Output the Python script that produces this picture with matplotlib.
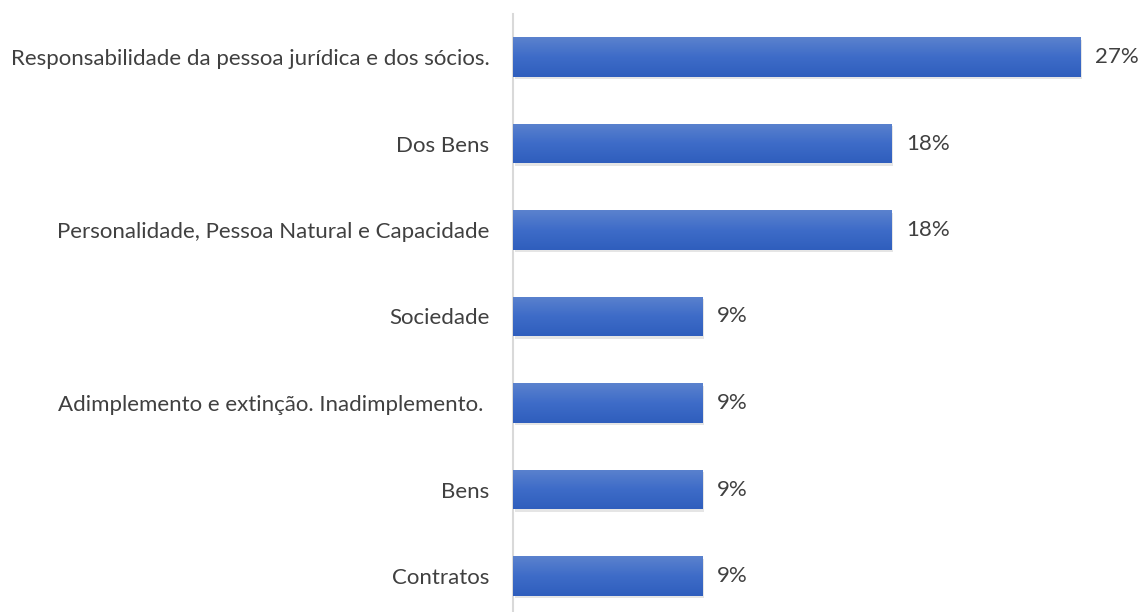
import numpy as np
import matplotlib.pyplot as plt
from matplotlib.colors import LinearSegmentedColormap

categorias = [
    "Responsabilidade da pessoa jurídica e dos sócios.",
    "Dos Bens",
    "Personalidade, Pessoa Natural e Capacidade",
    "Sociedade",
    "Adimplemento e extinção. Inadimplemento. ",
    "Bens",
    "Contratos",
]
valores = [27.27, 18.18, 18.18, 9.09, 9.09, 9.09, 9.09]
rotulos = ["27%", "18%", "18%", "9%", "9%", "9%", "9%"]

plt.rcParams['font.family'] = ['Lato', 'DejaVu Sans']

W, H = 1140, 612
fig = plt.figure(figsize=(W / 100, H / 100), dpi=100)
# eixo: x a partir de 513px, ~20.8px por ponto percentual; categorias espaçadas 86.5px
x0 = 513
escala = 20.8
passo = 86.5
topo = 57 - passo / 2
base = topo + passo * len(categorias)
ax = fig.add_axes([x0 / W, (H - base) / H, (W - x0) / W, (base - topo) / H])

cmap = LinearSegmentedColormap.from_list("azul", ["#5B82CE", "#3E6CC8", "#2F5EBD"])
grad = np.linspace(0, 1, 256).reshape(-1, 1)
altura = 0.46
y = np.arange(len(categorias))

# sombra
ax.barh(y + 0.03, valores, height=altura, left=0.1, color="#000000", alpha=0.10, zorder=1)
barras = ax.barh(y, valores, height=altura, color="#3E6CC8", zorder=2)
for b in barras:
    x, yy = b.get_x(), b.get_y()
    w, h = b.get_width(), b.get_height()
    im = ax.imshow(grad, cmap=cmap, aspect="auto", extent=[x, x + w, yy + h, yy],
                   zorder=3, interpolation="bicubic")
    im.set_clip_path(b)

for yi, v, r in zip(y, valores, rotulos):
    ax.text(v + 0.7, yi, r, va="center", ha="left", fontsize=16, color="#404040")

ax.set_xlim(0, (W - x0) / escala)
ax.set_ylim(len(categorias) - 0.5, -0.5)
ax.set_yticks(y)
ax.set_yticklabels(categorias, fontsize=16, color="#404040")
ax.tick_params(axis="y", length=0, pad=17)
ax.set_xticks([])
for s in ["top", "right", "bottom"]:
    ax.spines[s].set_visible(False)
ax.spines["left"].set_color("#D9D9D9")
ax.spines["left"].set_linewidth(1.5)

fig.savefig("out.png", dpi=100)
